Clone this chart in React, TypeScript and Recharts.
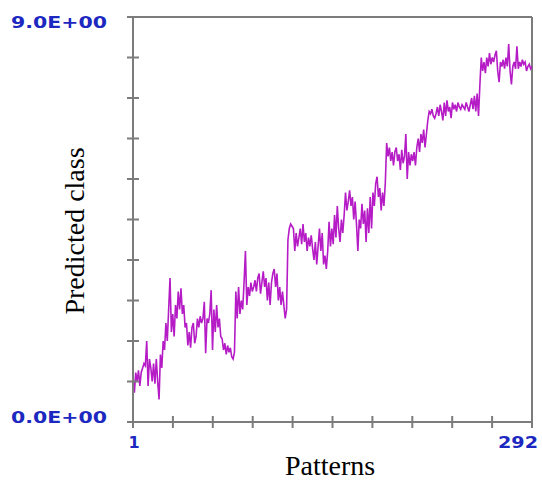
import React from 'react';
import { LineChart, Line, XAxis, YAxis, ReferenceLine } from 'recharts';

// Predicted class for each of the 292 patterns
const predicted: number[] = [
  1.0, 0.65, 1.1, 0.9, 1.15, 0.8, 1.1, 1.2,
  1.3, 1.25, 1.8, 0.8, 1.4, 1.2, 0.9,
  1.3, 0.85, 1.4, 0.9, 0.5, 1.5, 1.2,
  1.8, 1.6, 2.2, 1.8, 2.5, 3.2, 2.0, 2.4,
  1.9, 2.6, 2.3, 2.9, 2.5, 2.97, 2.4,
  2.6, 2.1, 2.2, 1.7, 2.0, 1.65, 2.1,
  2.2, 1.75, 1.9, 2.3, 2.1, 2.35, 2.2, 2.3,
  2.67, 1.53, 2.3, 2.2, 2.4, 2.93, 1.6,
  2.5, 2.0, 2.6, 2.1, 2.3, 1.9, 1.85,
  1.6, 1.75, 1.5, 1.7, 1.55, 1.65, 1.45, 1.4,
  1.55, 2.9, 2.3, 3.0, 2.4, 2.7, 2.5,
  3.1, 3.8, 2.6, 3.0, 2.8, 3.1, 2.9,
  3.0, 3.15, 2.9, 3.2, 3.3, 2.85, 3.1,
  3.35, 3.0, 3.2, 2.7, 3.1, 2.6, 3.1, 3.3,
  3.4, 3.0, 3.3, 2.7, 3.0, 2.6, 2.9,
  2.6, 2.3, 2.5, 4.05, 4.3, 4.4, 4.35,
  4.3, 3.8, 4.2, 3.9, 4.1, 4.3, 3.95, 4.4,
  4.0, 4.2, 3.8, 4.1, 3.9, 4.15, 3.85,
  3.6, 4.0, 3.5, 3.9, 4.3, 3.8, 4.2,
  3.5, 3.7, 3.4, 3.8, 4.45, 3.9, 4.3, 3.95,
  4.6, 4.1, 4.8, 4.3, 4.0, 4.5, 4.2,
  4.6, 5.1, 4.7, 4.9, 5.15, 4.8, 5.0,
  4.5, 4.9, 4.4, 3.8, 4.5, 4.3, 4.85,
  4.4, 4.7, 4.0, 4.75, 4.2, 5.0, 4.3, 5.1,
  4.8, 5.3, 5.45, 5.0, 5.2, 4.7, 5.1,
  4.8, 5.3, 6.2, 5.9, 6.1, 5.8, 6.0,
  5.7, 6.0, 6.1, 5.8, 5.95, 5.6, 6.05, 5.75,
  5.9, 6.4, 5.4, 6.0, 5.7, 5.95, 5.8,
  6.0, 5.7, 6.1, 6.3, 6.0, 6.4, 6.2,
  6.5, 6.1, 6.4, 6.7, 6.9, 6.85, 6.95, 6.8,
  6.75, 6.85, 7.0, 6.8, 7.05, 6.9, 6.7,
  7.1, 6.8, 7.15, 6.9, 7.0, 6.75, 7.1,
  6.95, 7.05, 6.9, 7.1, 7.0, 6.95, 7.05, 7.0,
  6.95, 7.1, 7.0, 6.9, 7.05, 7.2, 6.95,
  7.25, 6.9, 7.3, 6.8, 7.5, 8.1, 7.8,
  8.0, 7.75, 8.1, 7.9, 8.2, 7.95, 8.1,
  8.0, 8.15, 8.25, 7.8, 7.55, 8.0, 7.9, 8.05,
  7.85, 8.1, 7.9, 8.4, 7.8, 7.5, 7.9,
  8.0, 7.85, 8.35, 7.85, 8.0, 7.9, 8.05,
  7.95, 8.0, 7.8, 7.9, 7.95, 7.85, 7.9,
];

const xTicks: number[] = [1, 30.1, 59.2, 88.3, 117.4, 146.5, 175.6, 204.7, 233.8, 262.9, 292];
const yTicks: number[] = [0, 0.9, 1.8, 2.7, 3.6, 4.5, 5.4, 6.3, 7.2, 8.1, 9];
const xTickLabels: Record<number, string> = { 1: '1', 292: '292' };
const yTickLabels: Record<number, string> = { 0: '0.0E+00', 9: '9.0E+00' };

const data = predicted.map((v, i) => ({ pattern: i + 1, value: v }));

const AXIS = '#7c7c7c';
const LABEL_BLUE = '#1c28c0';
const LINE = '#b51cc6';

const YTick = (props: any) => {
  const { x, y, payload } = props;
  const label = yTickLabels[payload.value];
  return (
    <g>
      <line x1={x - 6} x2={x + 6} y1={y} y2={y} stroke={AXIS} strokeWidth={2} />
      {label ? (
        <text
          x={11}
          y={payload.value === 9 ? y + 11 : y + 1}
          fill={LABEL_BLUE}
          fontFamily="'DejaVu Sans', sans-serif"
          fontWeight="bold"
          fontSize={15}
          textLength={96}
          lengthAdjust="spacingAndGlyphs"
        >
          {label}
        </text>
      ) : null}
    </g>
  );
};

const XTick = (props: any) => {
  const { x, y, payload } = props;
  const label = xTickLabels[payload.value];
  const isLast = payload.value === 292;
  return (
    <g>
      <line x1={x} x2={x} y1={y - 6} y2={y + 6} stroke={AXIS} strokeWidth={2} />
      {label ? (
        isLast ? (
          <text
            x={498}
            y={y + 26}
            fill={LABEL_BLUE}
            fontFamily="'DejaVu Sans', sans-serif"
            fontWeight="bold"
            fontSize={16}
            textLength={40}
            lengthAdjust="spacingAndGlyphs"
          >
            {label}
          </text>
        ) : (
          <text
            x={x + 1}
            y={y + 26}
            fill={LABEL_BLUE}
            fontFamily="'DejaVu Sans', sans-serif"
            fontWeight="bold"
            fontSize={16}
            textAnchor="middle"
          >
            {label}
          </text>
        )
      ) : null}
    </g>
  );
};

export default function App() {
  return (
    <div style={{ position: 'absolute', left: 0, top: 0, width: 542, height: 480, background: '#fff' }}>
      <LineChart width={542} height={480} data={data} margin={{ top: 17, right: 10, left: 0, bottom: 0 }}>
        <XAxis
          dataKey="pattern"
          type="number"
          domain={[1, 292]}
          ticks={xTicks}
          interval={0}
          tickSize={0}
          tickMargin={0}
          tick={<XTick />}
          height={58}
          axisLine={{ stroke: AXIS, strokeWidth: 2 }}
          tickLine={false}
        />
        <YAxis
          type="number"
          domain={[0, 9]}
          ticks={yTicks}
          interval={0}
          tickSize={0}
          tickMargin={0}
          tick={<YTick />}
          width={133}
          axisLine={{ stroke: AXIS, strokeWidth: 2 }}
          tickLine={false}
        />
        <ReferenceLine y={9} stroke={AXIS} strokeWidth={2} />
        <ReferenceLine x={292} stroke={AXIS} strokeWidth={2} />
        <Line
          type="linear"
          dataKey="value"
          stroke={LINE}
          strokeWidth={1.6}
          dot={false}
          isAnimationActive={false}
        />
      </LineChart>
      <div
        style={{
          position: 'absolute',
          left: 230,
          top: 449,
          width: 200,
          textAlign: 'center',
          fontFamily: "'Liberation Serif', serif",
          fontSize: 28,
          lineHeight: '34px',
          color: '#000',
        }}
      >
        Patterns
      </div>
      <div
        style={{
          position: 'absolute',
          left: 75 - 120,
          top: 231 - 17,
          width: 240,
          textAlign: 'center',
          fontFamily: "'Liberation Serif', serif",
          fontSize: 28,
          lineHeight: '34px',
          color: '#000',
          transform: 'rotate(-90deg)',
          transformOrigin: '50% 50%',
        }}
      >
        Predicted class
      </div>
    </div>
  );
}
